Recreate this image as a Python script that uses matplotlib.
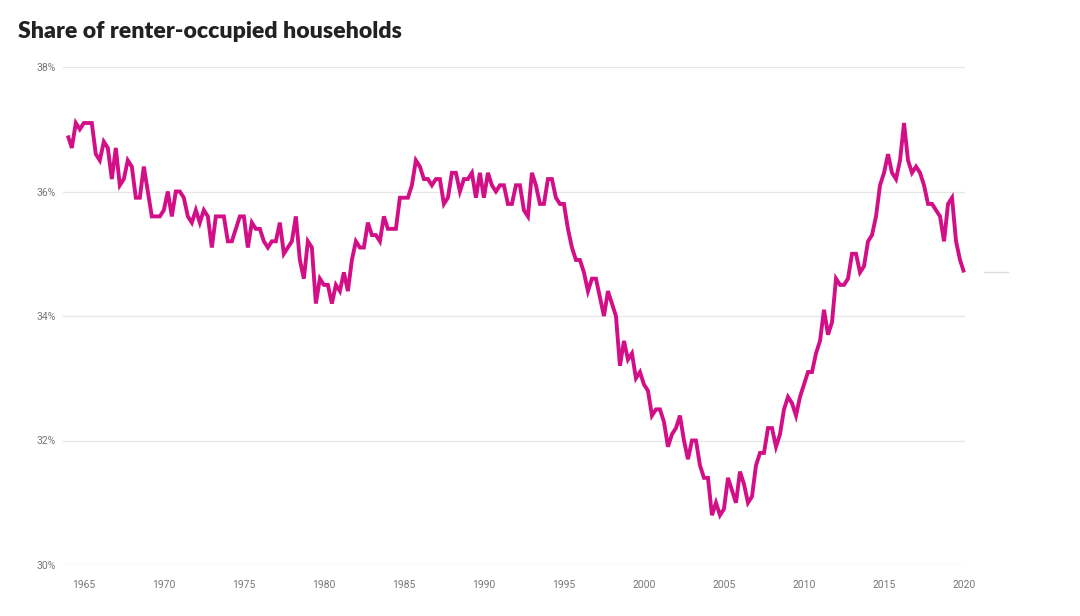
import numpy as np
import matplotlib
matplotlib.use('Agg')
import matplotlib.pyplot as plt
import matplotlib.transforms as mtransforms

# quarterly share of renter-occupied households (%), 1964 Q1 .. 2020 Q1
START_YEAR = 1964.0
share = [
    36.9, 36.7, 37.1, 37.0, 37.1, 37.1, 37.1, 36.6, 36.5, 36.8,
    36.7, 36.2, 36.7, 36.1, 36.2, 36.5, 36.4, 35.9, 35.9, 36.4,
    36.0, 35.6, 35.6, 35.6, 35.7, 36.0, 35.6, 36.0, 36.0, 35.9,
    35.6, 35.5, 35.7, 35.5, 35.7, 35.6, 35.1, 35.6, 35.6, 35.6,
    35.2, 35.2, 35.4, 35.6, 35.6, 35.1, 35.5, 35.4, 35.4, 35.2,
    35.1, 35.2, 35.2, 35.5, 35.0, 35.1, 35.2, 35.6, 34.9, 34.6,
    35.2, 35.1, 34.2, 34.6, 34.5, 34.5, 34.2, 34.5, 34.4, 34.7,
    34.4, 34.9, 35.2, 35.1, 35.1, 35.5, 35.3, 35.3, 35.2, 35.6,
    35.4, 35.4, 35.4, 35.9, 35.9, 35.9, 36.1, 36.5, 36.4, 36.2,
    36.2, 36.1, 36.2, 36.2, 35.8, 35.9, 36.3, 36.3, 36.0, 36.2,
    36.2, 36.3, 35.9, 36.3, 35.9, 36.3, 36.1, 36.0, 36.1, 36.1,
    35.8, 35.8, 36.1, 36.1, 35.7, 35.6, 36.3, 36.1, 35.8, 35.8,
    36.2, 36.2, 35.9, 35.8, 35.8, 35.4, 35.1, 34.9, 34.9, 34.7,
    34.4, 34.6, 34.6, 34.3, 34.0, 34.4, 34.2, 34.0, 33.2, 33.6,
    33.3, 33.4, 33.0, 33.1, 32.9, 32.8, 32.4, 32.5, 32.5, 32.3,
    31.9, 32.1, 32.2, 32.4, 32.0, 31.7, 32.0, 32.0, 31.6, 31.4,
    31.4, 30.8, 31.0, 30.8, 30.9, 31.4, 31.2, 31.0, 31.5, 31.3,
    31.0, 31.1, 31.6, 31.8, 31.8, 32.2, 32.2, 31.9, 32.1, 32.5,
    32.7, 32.6, 32.4, 32.7, 32.9, 33.1, 33.1, 33.4, 33.6, 34.1,
    33.7, 33.9, 34.6, 34.5, 34.5, 34.6, 35.0, 35.0, 34.7, 34.8,
    35.2, 35.3, 35.6, 36.1, 36.3, 36.6, 36.3, 36.2, 36.5, 37.1,
    36.5, 36.3, 36.4, 36.3, 36.1, 35.8, 35.8, 35.7, 35.6, 35.2,
    35.8, 35.9, 35.2, 34.9, 34.7,
]
years = START_YEAR + np.arange(len(share)) / 4

y_ticks = [30, 32, 34, 36, 38]
x_ticks = [1965, 1970, 1975, 1980, 1985, 1990, 1995, 2000, 2005, 2010, 2015, 2020]

LINE = '#d30f87'
GRID = '#e6e6e6'

fig = plt.figure(figsize=(10.8, 6.16), dpi=100)
ax = fig.add_axes([63 / 1080, 51 / 616, 902 / 1080, 498 / 616])

ax.plot(years, share, color=LINE, lw=2.8, solid_joinstyle='miter',
        solid_capstyle='butt', clip_on=False, zorder=3)

ax.set_xlim(1963.7, 2020.06)
ax.set_ylim(30, 38)
ax.set_yticks(y_ticks)
ax.set_yticklabels([f'{v}%' for v in y_ticks])
ax.set_xticks(x_ticks)
ax.set_xticklabels([str(v) for v in x_ticks])
ax.grid(axis='y', color=GRID, lw=0.9)
ax.set_axisbelow(True)
for s in ax.spines.values():
    s.set_visible(False)
ax.tick_params(length=0, colors='#777777', labelsize=7.5)
ax.tick_params(axis='y', pad=5)
ax.tick_params(axis='x', pad=11)
for lbl in ax.get_xticklabels() + ax.get_yticklabels():
    lbl.set_family('Roboto')

# small leader stub right of the last value
trans = mtransforms.blended_transform_factory(ax.transAxes, ax.transData)
ax.plot([1.021, 1.048], [share[-1], share[-1]], color='#dddddd', lw=0.9,
        transform=trans, clip_on=False)

fig.text(18 / 1080, 1 - 31 / 616, 'Share of renter-occupied households',
         fontsize=16.6, fontweight='heavy', family='Lato', color='#222222',
         va='center', ha='left')

fig.savefig('out.png', dpi=100, facecolor='white')
